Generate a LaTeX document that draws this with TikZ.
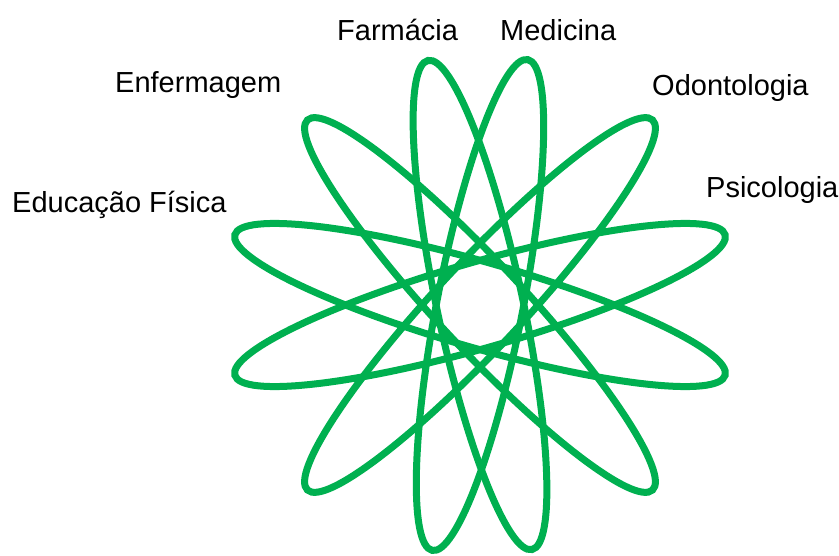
\documentclass[tikz,border=0pt]{standalone}
\usepackage{fontspec}
\setmainfont{Liberation Sans}
\usetikzlibrary{calc}
\definecolor{leafgreen}{RGB}{0,176,80}
\tikzset{
    petal/.style={draw=leafgreen, line width=7pt},
    course/.style={anchor=base west, inner sep=0pt, font=\fontsize{29}{35}\selectfont}
}
\begin{document}
\begin{tikzpicture}[x=1pt,y=1pt]
        \useasboundingbox (-480,-250) rectangle (359,305);
        % petals
        \foreach \ang/\len in {12/250,-11/250,43/253,-43/253,74/255,-74/255}
        {
            \path[petal, rotate=\ang](0,0) ellipse [x radius=43, y radius=\len];
        }
        % courses
        \node[course](farmacia)at(-143,265){Farmácia};
        \node[course](medicina)at(20,265){Medicina};
        \node[course](enfermagem)at(-365,213){Enfermagem};
        \node[course](odontologia)at(172,210){Odontologia};
        \node[course](edfisica)at(-468,93){Educação Física};
        \node[course](psicologia)at(226,108){Psicologia};
    \end{tikzpicture}
\end{document}
